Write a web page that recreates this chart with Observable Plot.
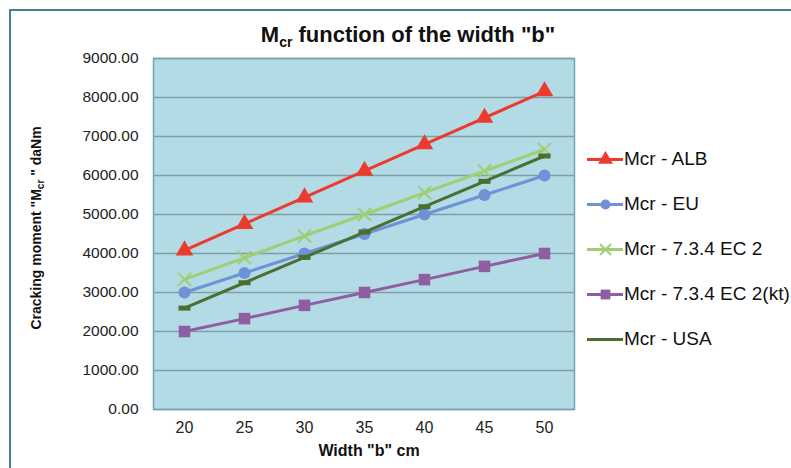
<!DOCTYPE html>
<html><head><meta charset="utf-8">
<script src="https://cdn.jsdelivr.net/npm/d3@7"></script>
<script src="https://cdn.jsdelivr.net/npm/@observablehq/plot@0.6"></script>
<style>
body{margin:0;background:#fff;font-family:"Liberation Sans",Arial,sans-serif;}
#wrap{position:relative;width:791px;height:468px;overflow:hidden;background:#fff;}
#frame{position:absolute;left:9px;top:9px;width:820px;height:520px;border:2px solid #3f8590;box-sizing:border-box;}
#chart{position:absolute;left:0;top:0;}
#title{position:absolute;left:0;width:816px;top:22px;text-align:center;font-weight:bold;font-size:22px;color:#111;}
#title sub{font-size:14px;vertical-align:-5px;line-height:0;}
#ylab{position:absolute;left:36px;top:228px;transform:translate(-50%,-50%) rotate(-90deg);white-space:nowrap;font-weight:bold;font-size:14px;color:#111;}
#ylab sub{font-size:10px;vertical-align:-3px;line-height:0;}
#xlab{position:absolute;left:369px;top:451px;transform:translate(-50%,-50%);white-space:nowrap;font-weight:bold;font-size:16px;color:#111;}
#legend{position:absolute;left:587px;top:0;width:210px;}
.li{position:absolute;left:0;display:flex;align-items:center;white-space:nowrap;font-size:19px;color:#111;transform:translateY(-50%);}
.li svg{display:block;margin-right:1px;max-width:none;}
</style></head>
<body>
<div id="wrap">
<div id="frame"></div>
<div id="chart"></div>
<div id="title">M<sub>cr</sub> function of the width "b"</div>
<div id="ylab">Cracking moment "M<sub>cr</sub> " daNm</div>
<div id="xlab">Width "b" cm</div>
<div id="legend"></div>
</div>
<script>
const widths = ["20","25","30","35","40","45","50"];
const yTicks = [0,1000,2000,3000,4000,5000,6000,7000,8000,9000];
const seriesNames = ["Mcr - ALB","Mcr - EU","Mcr - 7.3.4 EC 2","Mcr - 7.3.4 EC 2(kt)","Mcr - USA"];
const mcrALB  = [4080,4760,5440,6120,6800,7480,8160];
const mcrEU   = [3000,3500,4000,4500,5000,5500,6000];
const mcrEC2  = [3335,3890,4450,5000,5560,6115,6670];
const mcrEC2kt= [2000,2330,2670,3000,3330,3670,4000];
const mcrUSA  = [2600,3250,3900,4550,5200,5850,6500];
const seriesValues = [mcrALB,mcrEU,mcrEC2,mcrEC2kt,mcrUSA];
const seriesColors = ["#ec3a2e","#6f92d6","#9fcf72","#8f5ea0","#4b6f2f"];

const dash = {draw(ctx){ctx.moveTo(-6,-2.5);ctx.lineTo(6,-2.5);ctx.lineTo(6,2.5);ctx.lineTo(-6,2.5);ctx.closePath();}};
const seriesSymbols = ["triangle","circle","times","square",dash];
const seriesR = [6.5,6,6,6.5,6];

const marks = [
  Plot.frame({fill:"#b2dbe5",stroke:"none"}),
  Plot.ruleY(yTicks,{stroke:"#7f9ea5",strokeWidth:1.6}),
  Plot.frame({stroke:"#74a4ae",strokeWidth:1.5})
];
seriesValues.forEach((vals,i)=>{
  const data = widths.map((w,j)=>({w, v: vals[j]}));
  marks.push(Plot.line(data,{x:"w",y:"v",stroke:seriesColors[i],strokeWidth:3}));
  marks.push(Plot.dot(data,{x:"w",y:"v",symbol:seriesSymbols[i],r:seriesR[i],
    fill: seriesSymbols[i]==="times"?"none":seriesColors[i],
    stroke:seriesColors[i], strokeWidth: seriesSymbols[i]==="times"?2:0}));
});

const chart = Plot.plot({
  width:791, height:468,
  marginLeft:153, marginRight:217, marginTop:58, marginBottom:59,
  style:{fontFamily:"'Liberation Sans', Arial, sans-serif", fontSize:"15.5px", color:"#222", background:"transparent"},
  x:{type:"point", domain:widths, padding:0.5, label:null, tickSize:0, tickPadding:12, fontSize:16},
  y:{domain:[0,9000], ticks:yTicks, tickFormat:d3.format(".2f"), label:null, tickSize:0, tickPadding:15},
  symbol:{type:"identity"},
  marks
});
chart.querySelectorAll('[aria-label="x-axis tick label"]').forEach(g=>g.setAttribute("font-size","16"));
document.getElementById("chart").appendChild(chart);

const legendY = [159,204,249,294,339];
const leg = document.getElementById("legend");
seriesNames.forEach((name,i)=>{
  const div = document.createElement("div");
  div.className="li";
  div.style.top = legendY[i]+"px";
  const legMarks = [Plot.ruleY([0.5],{stroke:seriesColors[i],strokeWidth:3})];
  if (i<4) legMarks.push(Plot.dot([0.5],{x:d=>d,y:()=>0.5,symbol:()=>seriesSymbols[i],r:seriesR[i]*0.85,
        fill: seriesSymbols[i]==="times"?"none":seriesColors[i],
        stroke:seriesColors[i], strokeWidth: seriesSymbols[i]==="times"?2:0}));
  const sw = Plot.plot({
    width:36,height:16,margin:0,
    x:{domain:[0,1],axis:null},y:{domain:[0,1],axis:null},
    symbol:{type:"identity"},
    style:{background:"transparent",maxWidth:"none"},
    marks:legMarks
  });
  div.appendChild(sw);
  const t = document.createElement("span");
  t.textContent = name;
  div.appendChild(t);
  leg.appendChild(div);
});
</script>
</body></html>
